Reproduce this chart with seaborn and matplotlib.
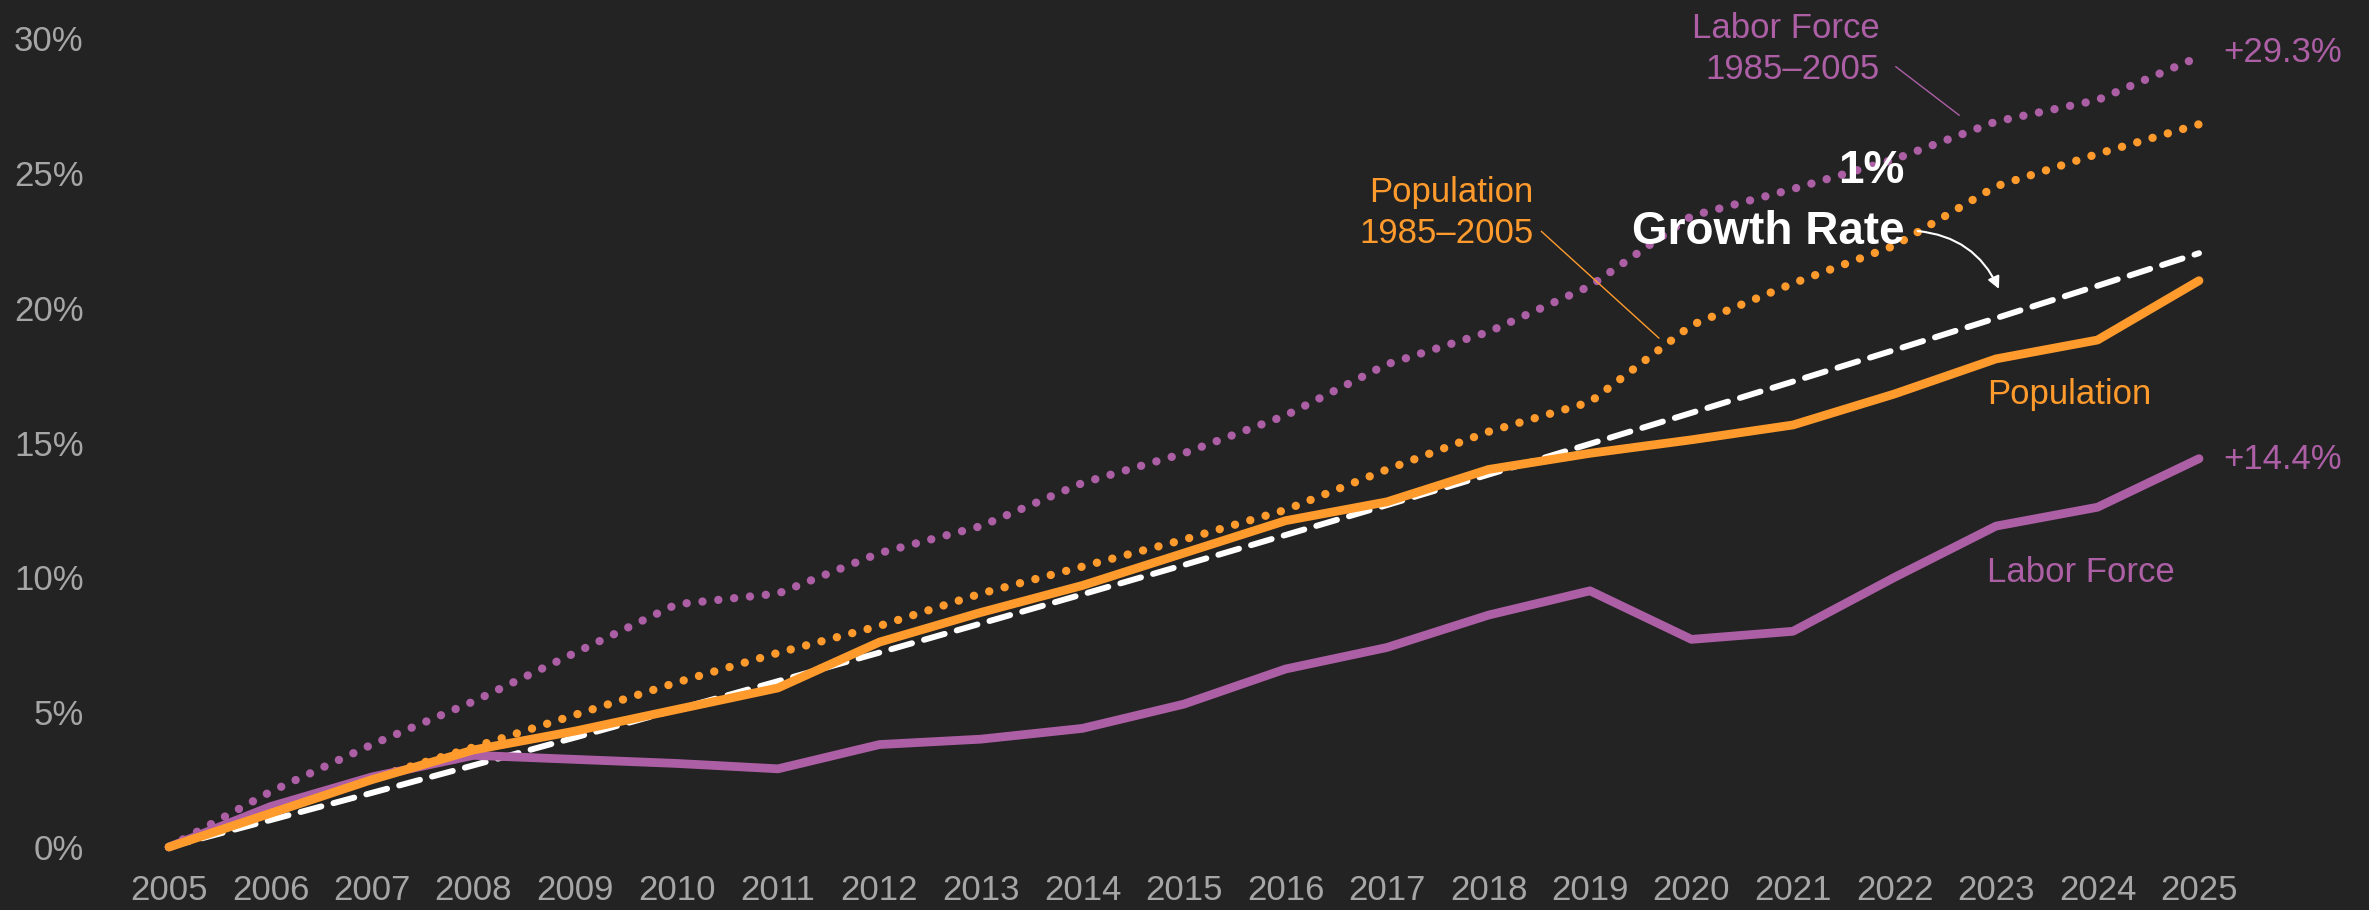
import matplotlib
matplotlib.use("Agg")
import matplotlib.pyplot as plt
import seaborn as sns
import pandas as pd

years = list(range(2005, 2026))

labor_force = [0.0, 1.5, 2.6, 3.4, 3.25, 3.1, 2.9, 3.8, 4.0, 4.4, 5.3, 6.6, 7.4,
               8.6, 9.5, 7.7, 8.0, 10.0, 11.9, 12.6, 14.4]
population = [0.0, 1.25, 2.5, 3.6, 4.3, 5.1, 5.9, 7.6, 8.7, 9.7, 10.9, 12.1, 12.8,
              14.0, 14.6, 15.1, 15.65, 16.8, 18.1, 18.8, 21.0]
labor_force_8505 = [0.0, 2.05, 3.8, 5.4, 7.2, 9.0, 9.4, 10.9, 11.9, 13.5, 14.6, 16.0,
                    17.9, 19.1, 20.8, 23.4, 24.4, 25.5, 26.9, 27.7, 29.3]
population_8505 = [0.0, 1.45, 2.55, 3.7, 4.9, 6.1, 7.2, 8.2, 9.4, 10.4, 11.4, 12.5,
                   14.0, 15.4, 16.5, 19.35, 20.9, 22.3, 24.5, 25.7, 26.8]
growth_1pct = [0.0, 1.0, 2.01, 3.03, 4.06, 5.10, 6.15, 7.21, 8.29, 9.37, 10.46, 11.57,
               12.68, 13.81, 14.95, 16.10, 17.26, 18.43, 19.61, 20.81, 22.02]

y_ticks = [0, 5, 10, 15, 20, 25, 30]
y_tick_labels = ["0%", "5%", "10%", "15%", "20%", "25%", "30%"]

BG = "#232323"
PURPLE = "#AD5FA6"
ORANGE = "#FF9B2D"
TICK = "#A6A6A6"
WHITE = "#FFFFFF"

df = pd.DataFrame({
    "year": years,
    "labor": labor_force,
    "pop": population,
    "labor_old": labor_force_8505,
    "pop_old": population_8505,
    "growth": growth_1pct,
})

sns.set_theme(style="dark", rc={"axes.facecolor": BG, "figure.facecolor": BG})
plt.rcParams["font.family"] = ["Liberation Sans", "DejaVu Sans"]

fig = plt.figure(figsize=(23.69, 9.10), dpi=100)
W, H = 2369, 910
# xlim 2004.5..2025.5 -> 118..2250 px, ylim -1..31 -> 874..11 px
ax = fig.add_axes([118.25 / W, (H - 874) / H, 2131.5 / W, 863 / H])

dot = (0, (0.01, 1.9))
sns.lineplot(data=df, x="year", y="labor_old", ax=ax, color=PURPLE, lw=6,
             linestyle=dot, dash_capstyle="round")
sns.lineplot(data=df, x="year", y="pop_old", ax=ax, color=ORANGE, lw=6,
             linestyle=dot, dash_capstyle="round")
sns.lineplot(data=df, x="year", y="growth", ax=ax, color=WHITE, lw=4.3,
             linestyle=(0, (3.6, 2.1)), dash_capstyle="round")
sns.lineplot(data=df, x="year", y="labor", ax=ax, color=PURPLE, lw=6.3,
             solid_capstyle="round", solid_joinstyle="round")
sns.lineplot(data=df, x="year", y="pop", ax=ax, color=ORANGE, lw=6.3,
             solid_capstyle="round", solid_joinstyle="round")

ax.set_xlim(2004.5, 2025.5)
ax.set_ylim(-1, 31)
ax.set_xticks(years)
ax.set_xticklabels([str(y) for y in years])
ax.set_yticks(y_ticks)
ax.set_yticklabels(y_tick_labels)
ax.tick_params(axis="both", length=0, colors=TICK, labelsize=25)
ax.tick_params(axis="y", pad=25)
ax.tick_params(axis="x", pad=0)
ax.set_xlabel("")
ax.set_ylabel("")
ax.grid(False)
for s in ax.spines.values():
    s.set_visible(False)

lab = dict(fontsize=25)
ax.text(2021.85, 29.6, "Labor Force\n1985–2005", color=PURPLE, ha="right",
        va="center", multialignment="right", linespacing=1.3, **lab)
ax.annotate("", xy=(2022.66, 27.07), xytext=(2021.99, 29.0),
            arrowprops=dict(arrowstyle="-", color=PURPLE, lw=1))
ax.text(2018.44, 23.5, "Population\n1985–2005", color=ORANGE, ha="right",
        va="center", multialignment="right", linespacing=1.3, **lab)
ax.annotate("", xy=(2019.7, 18.8), xytext=(2018.5, 22.9),
            arrowprops=dict(arrowstyle="-", color=ORANGE, lw=1))
ax.text(2022.1, 23.95, "1%\nGrowth Rate", color=WHITE, ha="right", va="center",
        multialignment="right", linespacing=1.5, fontsize=33, fontweight="bold")
ax.annotate("", xy=(2023.04, 20.6), xytext=(2022.2, 22.85),
            arrowprops=dict(arrowstyle="-|>", color=WHITE, lw=1.5,
                            mutation_scale=18,
                            connectionstyle="arc3,rad=-0.3"))
ax.text(2025.24, 29.46, "+29.3%", color=PURPLE, ha="left", va="center", **lab)
ax.text(2025.24, 14.36, "+14.4%", color=PURPLE, ha="left", va="center", **lab)
ax.text(2022.91, 16.77, "Population", color=ORANGE, ha="left", va="center", **lab)
ax.text(2022.91, 10.17, "Labor Force", color=PURPLE, ha="left", va="center", **lab)

fig.savefig("out.png", dpi=100, facecolor=BG)
